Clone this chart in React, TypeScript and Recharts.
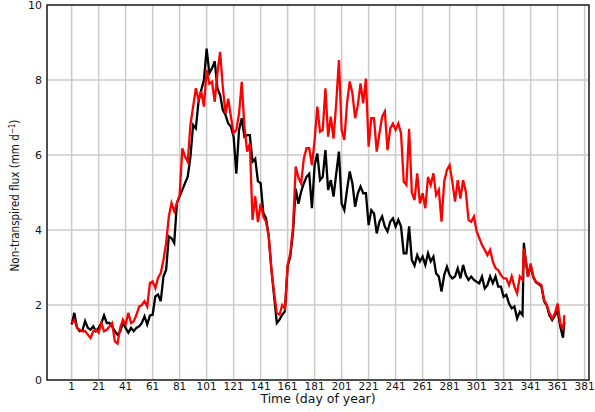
import React from 'react';
import { LineChart, Line, XAxis, YAxis, CartesianGrid, ReferenceArea } from 'recharts';

// sampled days of year
const DAYS = [
    1, 3, 5, 7, 9, 11, 13, 15, 17, 19, 21, 23, 25, 27, 29, 31, 33, 35, 37, 39,
    41, 43, 45, 47, 49, 51, 53, 55, 57, 59, 61, 63, 65, 67, 69, 71, 73, 75, 77, 79,
    81, 83, 85, 87, 89, 91, 93, 95, 97, 99, 101, 103, 105, 107, 109, 111, 113, 115, 117, 119,
    121, 123, 125, 127, 129, 131, 133, 135, 137, 139, 141, 143, 145, 147, 149, 151, 153, 155, 157, 159,
    161, 163, 165, 167, 169, 171, 173, 175, 177, 179, 181, 183, 185, 187, 189, 191, 193, 195, 197, 199,
    201, 203, 205, 207, 209, 211, 213, 215, 217, 219, 221, 223, 225, 227, 229, 231, 233, 235, 237, 239,
    241, 243, 245, 247, 249, 251, 253, 255, 257, 259, 261, 263, 265, 267, 269, 271, 273, 275, 277, 279,
    281, 283, 285, 287, 289, 291, 293, 295, 297, 299, 301, 303, 305, 307, 309, 311, 313, 315, 317, 319,
    321, 323, 325, 327, 329, 331, 333, 335, 336, 337, 339, 341, 343, 345, 347, 349, 351, 353, 355, 357,
    359, 361, 363, 365, 366,
];

const BLACK = [
    1.48, 1.79, 1.39, 1.3, 1.32, 1.57, 1.39, 1.34, 1.43, 1.3, 1.39, 1.52, 1.72, 1.52, 1.52, 1.43, 1.3, 1.21, 1.3, 1.52,
    1.39, 1.26, 1.39, 1.3, 1.39, 1.43, 1.52, 1.7, 1.48, 1.72, 1.74, 2.23, 2.28, 2.1, 2.76, 2.94, 3.83, 3.78, 3.65, 4.72,
    4.9, 5.07, 5.25, 5.42, 5.95, 6.8, 6.71, 7.42, 7.73, 8.0, 8.84, 8.18, 8.31, 8.5, 7.78, 7.6, 7.2, 7.07, 6.84, 6.75,
    6.49, 5.5, 6.67, 6.98, 6.49, 6.53, 6.53, 5.82, 5.9, 5.3, 5.25, 4.45, 4.32, 3.83, 2.94, 2.23, 1.52, 1.61, 1.74, 1.83,
    3.03, 3.3, 3.95, 5.1, 4.7, 5.02, 5.24, 5.42, 5.5, 4.58, 5.73, 6.04, 5.33, 5.42, 6.13, 5.07, 5.33, 4.89, 5.5, 6.09,
    4.71, 4.53, 5.07, 5.56, 5.24, 4.62, 4.98, 5.16, 4.98, 4.98, 4.13, 4.53, 4.44, 3.91, 4.22, 4.36, 4.09, 3.96, 4.22, 4.31,
    4.09, 4.27, 4.09, 3.38, 3.38, 4.1, 3.2, 3.05, 3.33, 3.16, 3.29, 3.07, 3.38, 3.16, 3.29, 2.84, 2.76, 2.36, 2.8, 3.02,
    2.8, 2.71, 2.76, 2.98, 2.71, 3.07, 2.8, 2.67, 2.76, 2.67, 2.62, 2.58, 2.76, 2.44, 2.53, 2.76, 2.58, 2.76, 2.49, 2.49,
    2.22, 2.27, 2.04, 1.91, 1.96, 1.64, 1.82, 1.73, 3.66, 3.3, 2.76, 3.05, 2.74, 2.6, 2.56, 2.5, 2.1, 1.98, 1.72, 1.6,
    1.72, 1.85, 1.42, 1.13, 1.55,
];

const RED = [
    1.52, 1.6, 1.39, 1.34, 1.3, 1.3, 1.21, 1.12, 1.3, 1.34, 1.26, 1.52, 1.3, 1.34, 1.43, 1.52, 1.03, 0.97, 1.39, 1.61,
    1.48, 1.79, 1.52, 1.56, 1.74, 1.96, 2.0, 2.1, 1.96, 2.59, 2.63, 2.45, 2.72, 2.85, 3.2, 3.65, 4.36, 4.72, 4.5, 4.72,
    4.94, 6.18, 5.96, 5.82, 6.8, 7.29, 7.78, 7.47, 7.7, 7.29, 8.27, 7.9, 7.95, 7.42, 8.18, 8.75, 7.8, 7.1, 7.5, 7.02,
    6.58, 6.67, 7.1, 7.95, 6.75, 6.09, 6.31, 4.27, 4.9, 4.21, 4.7, 4.36, 4.22, 3.83, 2.94, 2.32, 1.79, 1.74, 2.0, 1.9,
    3.07, 3.38, 4.1, 5.69, 5.4, 5.24, 5.91, 6.18, 6.18, 5.73, 6.4, 7.29, 6.62, 6.67, 7.78, 6.49, 7.02, 6.44, 7.38, 8.53,
    6.67, 6.4, 7.38, 7.96, 7.64, 6.98, 7.33, 7.91, 7.38, 8.04, 6.22, 6.98, 6.98, 6.09, 6.58, 7.02, 7.16, 6.13, 6.71, 6.84,
    6.67, 6.84, 6.58, 5.29, 5.2, 6.7, 5.0, 4.8, 5.51, 4.71, 4.98, 4.58, 5.42, 5.2, 5.51, 4.93, 5.07, 4.22, 5.29, 5.6,
    5.73, 5.29, 4.76, 5.33, 4.84, 5.33, 5.02, 4.27, 4.22, 4.36, 3.96, 3.78, 3.6, 3.47, 3.33, 3.47, 3.16, 2.98, 2.93, 2.8,
    2.71, 2.71, 2.53, 2.76, 2.49, 2.31, 2.76, 2.67, 3.5, 3.29, 2.76, 3.11, 2.76, 2.62, 2.58, 2.53, 2.13, 2.0, 1.78, 1.64,
    1.78, 2.04, 1.51, 1.33, 1.73,
];

const X_TICKS = [1, 21, 41, 61, 81, 101, 121, 141, 161, 181, 201, 221, 241, 261, 281, 301, 321, 341, 361, 381];
const Y_TICKS = [0, 2, 4, 6, 8, 10];
const X_DOMAIN: [number, number] = [-17.25, 384.25];

const data = DAYS.map((day, i) => ({ day, black: BLACK[i], red: RED[i] }));

const FONT = "'DejaVu Sans', Verdana, sans-serif";

const YLabel = (props: any) => {
    const vb = props.viewBox || { x: 0, y: 0, width: 0, height: 0 };
    const cx = vb.x + 19;
    const cy = vb.y + vb.height / 2 + 3;
    return (
        <text
            x={cx}
            y={cy}
            transform={`rotate(-90, ${cx}, ${cy})`}
            textAnchor="middle"
            fontFamily="'DejaVu Sans Condensed', 'Liberation Sans Narrow', 'DejaVu Sans', sans-serif"
            fontStretch="condensed"
            fontSize={11.5}
            fill="#111"
        >
            Non-transpired flux (mm d<tspan dy={-4.5} fontSize={8}>−1</tspan><tspan dy={4.5}>)</tspan>
        </text>
    );
};

export default function App() {
    return (
        <div style={{ position: 'absolute', left: 0, top: 0, width: 595, height: 412, background: '#fff' }}>
            <LineChart width={595} height={412} data={data} margin={{ top: 5, right: 6, bottom: 0, left: 0 }}>
                <CartesianGrid stroke="#cbcbcb" strokeWidth={1.5} />
                <XAxis
                    dataKey="day"
                    type="number"
                    domain={X_DOMAIN}
                    ticks={X_TICKS}
                    allowDataOverflow
                    height={32}
                    axisLine={false}
                    tickLine={false}
                    tickSize={0}
                    tickMargin={3}
                    interval={0}
                    tick={{ fontSize: 10.5, fill: '#111', fontFamily: FONT }}
                    label={{ value: 'Time (day of year)', position: 'insideBottom', offset: 9, fontSize: 12.5, fill: '#111', fontFamily: FONT }}
                />
                <YAxis
                    type="number"
                    domain={[0, 10]}
                    ticks={Y_TICKS}
                    allowDataOverflow
                    width={47}
                    axisLine={false}
                    tickLine={false}
                    tickSize={0}
                    tickMargin={5}
                    interval={0}
                    tick={{ fontSize: 11, fill: '#111', fontFamily: FONT }}
                    label={{ content: <YLabel /> }}
                />
                <ReferenceArea x1={X_DOMAIN[0]} x2={X_DOMAIN[1]} y1={0} y2={10} fill="none" stroke="#222" strokeWidth={1.5} />
                <Line type="linear" dataKey="black" stroke="#000000" strokeWidth={2.3} dot={false} isAnimationActive={false} />
                <Line type="linear" dataKey="red" stroke="#ff0000" strokeWidth={2.3} dot={false} isAnimationActive={false} />
            </LineChart>
        </div>
    );
}
